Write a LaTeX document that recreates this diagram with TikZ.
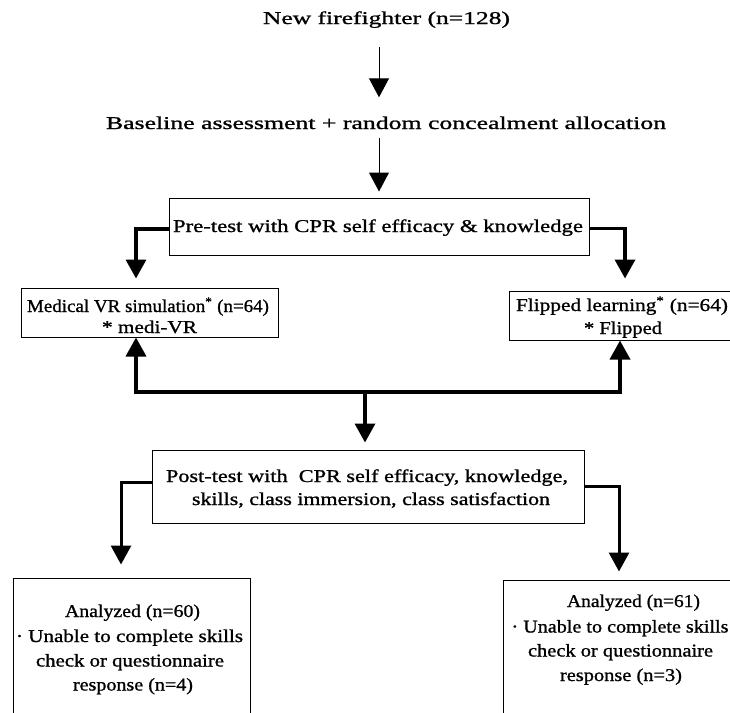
\documentclass[tikz,border=0pt]{standalone}
\usepackage{fontspec}
\setmainfont[FakeBold=1]{Liberation Serif}
\usepackage{graphicx}
\usetikzlibrary{arrows.meta}
\newcommand{\fitw}[2]{\resizebox{#1pt}{\height}{#2}}
\begin{document}
\begin{tikzpicture}[x=1pt,y=-1pt,
  box/.style={draw, line width=1pt, inner sep=0pt, rectangle},
  txt/.style={inner sep=0pt, anchor=base, font=\fontsize{18}{22}\selectfont},
  tarr/.style={line width=1pt, -{Triangle[width=20pt,length=19pt]}},
  karr/.style={line width=3.5pt, -{Triangle[width=20pt,length=19pt]}}]
\useasboundingbox (0,0) rectangle (730,712);

% boxes
\node[box, minimum width=420pt, minimum height=57pt] (pre) at (379,226.5) {};
\node[box, minimum width=257pt, minimum height=49pt] (med) at (149.5,312.5) {};
\node[box, minimum width=228pt, minimum height=49pt] (flip) at (623,315.5) {};
\node[box, minimum width=432pt, minimum height=73pt] (post) at (368,486.5) {};
\node[box, minimum width=237pt, minimum height=162pt] (anl) at (131.5,659) {};
\node[box, minimum width=238pt, minimum height=160pt] (anr) at (622,660) {};

% texts
\node[txt] (tA) at (386.5,24) {\fitw{247}{New firefighter (n=128)}};
\node[txt] (tB) at (386,129) {\fitw{560}{Baseline assessment + random concealment allocation}};
\node[txt] (tC) at (378,232) {\fitw{410}{Pre-test with CPR self efficacy \& knowledge}};
\node[txt] (m1) at (148,312) {\fitw{242}{Medical VR simulation\textsuperscript{*} (n=64)}};
\node[txt] (m2) at (149.5,333) {\fitw{95}{* medi-VR}};
\node[txt] (f1) at (622,311) {\fitw{212}{Flipped learning\textsuperscript{*} (n=64)}};
\node[txt] (f2) at (623,334) {\fitw{78}{* Flipped}};
\node[txt] (p1) at (367,482) {\fitw{402}{Post-test with\ \ CPR self efficacy, knowledge,}};
\node[txt] (p2) at (371,505) {\fitw{358}{skills, class immersion, class satisfaction}};
\node[txt] (l1) at (132.5,617) {\fitw{135}{Analyzed (n=60)}};
\node[txt] (l2) at (129.5,642) {\fitw{227}{· Unable to complete skills}};
\node[txt] (l3) at (130,666.5) {\fitw{188}{check or questionnaire}};
\node[txt] (l4) at (133,690.5) {\fitw{120}{response (n=4)}};
\node[txt] (r1) at (633.5,607) {\fitw{133}{Analyzed (n=61)}};
\node[txt] (r2) at (620,632.5) {\fitw{217}{· Unable to complete skills}};
\node[txt] (r3) at (620.5,656.5) {\fitw{185}{check or questionnaire}};
\node[txt] (r4) at (621,681) {\fitw{122}{response (n=3)}};

% connectors
\draw[tarr, shorten <=19pt, shorten >=19pt] (tA.south -| pre.north) -- (tB.north -| pre.north);
\draw[tarr, shorten <=9pt, shorten >=6pt] (tB.south -| pre.north) -- (pre.north);
\draw[karr] ([yshift=-2.5pt]pre.west) -| ([xshift=-13.5pt,yshift=9pt]med.north);
\draw[karr] ([yshift=-2pt]pre.east) -| ([xshift=2pt,yshift=12pt]flip.north);

\coordinate (j) at (365,392);
\draw[karr] (j) -| ([xshift=-13.5pt]med.south);
\draw[karr] (j) -| ([xshift=-3pt]flip.south);
\draw[karr, shorten >=7pt] (j) -- (j |- post.north);

\draw[karr, line width=3pt] ([yshift=4.5pt]post.west) -| ([xshift=-10.5pt,yshift=13pt]anl.north);
\draw[karr, line width=3pt] (post.east) -| ([xshift=-3pt,yshift=8pt]anr.north);
\end{tikzpicture}
\end{document}
